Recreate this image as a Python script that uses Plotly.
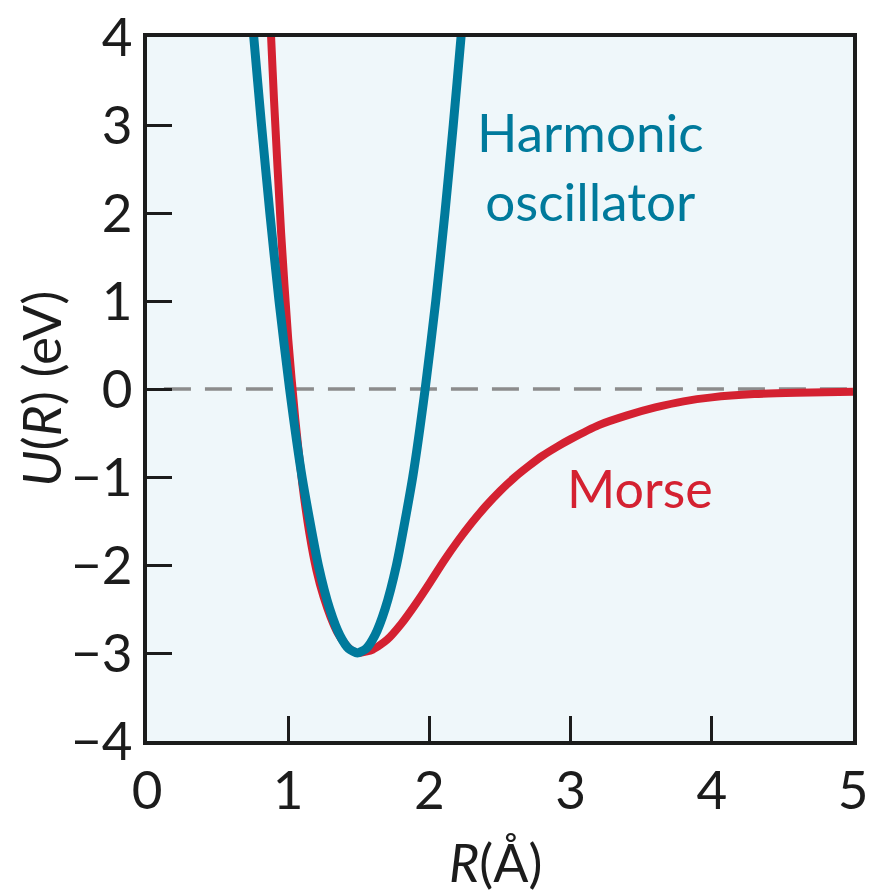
import plotly.graph_objects as go

# ---- data ----
morse_R = [0.86, 0.88, 0.90, 0.95, 1.00, 1.05, 1.10, 1.15, 1.20, 1.25, 1.30, 1.35, 1.40, 1.45, 1.50,
           1.60, 1.70, 1.80, 1.90, 2.00, 2.10, 2.20, 2.30, 2.40, 2.50, 2.60, 2.70, 2.80, 2.90, 3.00,
           3.20, 3.40, 3.60, 3.80, 4.00, 4.30, 4.60, 5.00]
morse_U = [4.7, 3.96, 3.27, 1.77, 0.57, -0.34, -1.08, -1.64, -2.06, -2.36, -2.59, -2.77, -2.89, -2.97, -3.0,
           -2.96, -2.85, -2.67, -2.45, -2.21, -1.96, -1.73, -1.52, -1.33, -1.16, -1.01, -0.88, -0.76, -0.66, -0.57,
           -0.41, -0.30, -0.21, -0.14, -0.095, -0.058, -0.042, -0.03]

harm_R = [0.730, 0.756, 0.811, 0.870, 0.935, 1.010, 1.098, 1.213, 1.294, 1.366, 1.428, 1.490,
          1.552, 1.614, 1.686, 1.767, 1.882, 1.970, 2.045, 2.110, 2.169, 2.224, 2.250]
harm_U = [4.5, 4.0, 3.0, 2.0, 1.0, 0.0, -1.0, -2.0, -2.5, -2.8, -2.95, -3.0,
          -2.95, -2.8, -2.5, -2.0, -1.0, 0.0, 1.0, 2.0, 3.0, 4.0, 4.5]

zero_R = [0.12, 5.0]
zero_U = [0.0, 0.0]

x_ticks = [0, 1, 2, 3, 4, 5]
y_ticks = [-4, -3, -2, -1, 0, 1, 2, 3, 4]

BLUE = "#007a9c"
RED = "#d42131"
INK = "#1c1c1c"
FONT = "Lato"

fig = go.Figure()
fig.add_trace(go.Scatter(x=zero_R, y=zero_U, mode="lines",
                         line=dict(color="#8c8c8c", width=3.5, dash="27px,14px"),
                         hoverinfo="skip", showlegend=False))
fig.add_trace(go.Scatter(x=morse_R, y=morse_U, mode="lines", name="Morse",
                         line=dict(color=RED, width=8, shape="spline", smoothing=0.6),
                         showlegend=False))
fig.add_trace(go.Scatter(x=harm_R, y=harm_U, mode="lines", name="Harmonic oscillator",
                         line=dict(color=BLUE, width=9, shape="spline", smoothing=0.6),
                         showlegend=False))

fig.add_annotation(x=3.14, y=2.53, xref="x", yref="y", text="Harmonic<br>oscillator",
                   showarrow=False, font=dict(family=FONT, size=53, color=BLUE),
                   align="center", xanchor="center", yanchor="middle")
fig.add_annotation(x=3.49, y=-1.12, xref="x", yref="y", text="Morse",
                   showarrow=False, font=dict(family=FONT, size=52, color=RED),
                   xanchor="center", yanchor="middle")

# axis titles
fig.add_annotation(x=-0.152, y=0, xref="paper", yref="y", text="<i>U</i>(<i>R</i>) (eV)",
                   textangle=-90, showarrow=False,
                   font=dict(family=FONT, size=53, color=INK),
                   xanchor="center", yanchor="middle")
fig.add_annotation(x=0.494, y=-0.172, xref="paper", yref="paper", text="<i>R</i>(Å)",
                   showarrow=False, font=dict(family=FONT, size=52, color=INK),
                   xanchor="center", yanchor="middle")

axis_common = dict(showline=True, linewidth=4, linecolor=INK, mirror=True,
                   ticks="inside", ticklen=25, tickwidth=3, tickcolor=INK,
                   showgrid=False, zeroline=False, automargin=False,
                   tickfont=dict(family=FONT, size=53, color=INK))

fig.update_xaxes(range=[0, 5], tickvals=x_ticks, ticktext=[str(v) for v in x_ticks],
                 **axis_common)
fig.update_yaxes(range=[-4, 4], tickvals=y_ticks,
                 ticktext=[("\u2212" + str(-v)) if v < 0 else str(v) for v in y_ticks],
                 **axis_common)

fig.update_layout(width=869, height=893,
                  margin=dict(l=147, r=16, t=37, b=152, autoexpand=False),
                  plot_bgcolor="#eff7fa", paper_bgcolor="white",
                  font=dict(family=FONT, color=INK))

fig.write_html("out.html")
